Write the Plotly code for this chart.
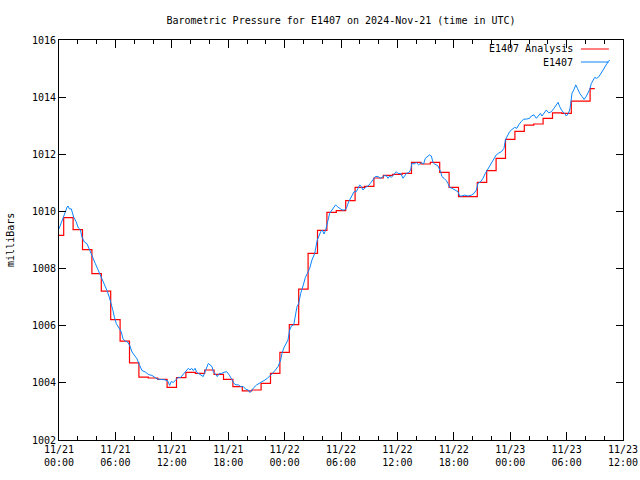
import pandas as pd
import plotly.graph_objects as go

start_time = "2024-11-21 00:00"
end_hours = 60

# Hourly analysis values (mb)
analysis_hours = list(range(58))
analysis_mb = [
    1009.16, 1009.78, 1009.36, 1008.66, 1007.82, 1007.21, 1006.21, 1005.46, 1004.70, 1004.20,
    1004.17, 1004.12, 1003.84, 1004.18, 1004.37, 1004.33, 1004.45, 1004.30, 1004.12, 1003.87,
    1003.72, 1003.75, 1003.98, 1004.33, 1005.07, 1006.04, 1007.28, 1008.53, 1009.34, 1009.97,
    1010.03, 1010.38, 1010.84, 1010.88, 1011.17, 1011.26, 1011.30, 1011.33, 1011.72, 1011.66,
    1011.72, 1011.37, 1010.84, 1010.52, 1010.52, 1011.02, 1011.43, 1011.86, 1012.52, 1012.80,
    1013.02, 1013.06, 1013.26, 1013.45, 1013.43, 1013.86, 1013.86, 1014.30,
]

# Station observations (hours after start, mb)
obs_hours = [
    0.00, 0.14, 0.39, 0.67, 0.85, 0.96, 1.10, 1.31, 1.56, 1.81, 2.06, 2.27, 2.45, 2.70, 2.98,
    3.19, 3.33, 3.62, 3.87, 4.11, 4.33, 4.61, 4.86, 5.11, 5.35, 5.57, 5.74, 5.89, 6.10, 6.38,
    6.63, 6.81, 7.06, 7.30, 7.52, 7.77, 8.01, 8.30, 8.58, 8.83, 9.18, 9.54, 9.89, 10.14, 10.43,
    10.78, 11.20, 11.56, 11.77, 11.95, 12.16, 12.45, 12.69, 12.94, 13.16, 13.40, 13.58, 13.76,
    13.94, 14.11, 14.29, 14.47, 14.65, 14.93, 15.18, 15.35, 15.46, 15.71, 15.89, 16.06, 16.28,
    16.42, 16.67, 16.84, 17.06, 17.30, 17.55, 17.84, 18.12, 18.37, 18.62, 18.83, 19.08, 19.33,
    19.61, 19.89, 20.14, 20.32, 20.50, 20.74, 21.03, 21.31, 21.67, 21.91, 22.16, 22.45, 22.70,
    22.98, 23.30, 23.58, 23.72, 23.94, 24.18, 24.36, 24.54, 24.72, 24.97, 25.14, 25.32, 25.50,
    25.71, 25.96, 26.21, 26.42, 26.67, 26.91, 27.20, 27.48, 27.66, 27.84, 28.01, 28.19, 28.37,
    28.55, 28.79, 29.04, 29.26, 29.43, 29.61, 29.86, 30.11, 30.39, 30.57, 30.82, 31.10, 31.39,
    31.63, 31.81, 31.99, 32.16, 32.34, 32.59, 32.87, 33.12, 33.40, 33.65, 33.94, 34.18, 34.36,
    34.57, 34.82, 35.00, 35.18, 35.35, 35.64, 35.89, 36.06, 36.35, 36.60, 36.77, 36.95, 37.20,
    37.41, 37.55, 37.77, 38.01, 38.26, 38.55, 38.79, 38.97, 39.18, 39.43, 39.61, 39.79, 39.96,
    40.14, 40.32, 40.60, 40.74, 40.96, 41.20, 41.38, 41.56, 41.81, 42.09, 42.45, 42.62, 42.87,
    43.16, 43.51, 43.87, 44.15, 44.40, 44.57, 44.86, 45.11, 45.35, 45.57, 45.82, 46.06, 46.28,
    46.52, 46.77, 47.06, 47.34, 47.49, 47.70, 47.94, 48.19, 48.48, 48.72, 48.90, 49.19, 49.43,
    49.72, 50.07, 50.25, 50.53, 50.78, 50.96, 51.21, 51.38, 51.60, 51.84, 52.09, 52.38, 52.66,
    52.91, 53.09, 53.26, 53.51, 53.79, 53.97, 54.15, 54.33, 54.44, 54.57, 54.79, 54.97, 55.15,
    55.40, 55.65, 55.86, 56.11, 56.28, 56.46, 56.63, 56.81, 56.99, 57.20, 57.41, 57.62, 57.87,
    58.12, 58.41, 58.59,
]
obs_mb = [
    1009.39, 1009.53, 1009.77, 1009.98, 1010.15, 1010.19, 1010.09, 1010.09, 1009.80, 1009.65,
    1009.42, 1009.36, 1009.10, 1008.93, 1008.87, 1008.69, 1008.60, 1008.34, 1008.17, 1007.99,
    1007.82, 1007.64, 1007.47, 1007.23, 1007.00, 1006.77, 1006.53, 1006.30, 1006.07, 1005.92,
    1005.78, 1005.54, 1005.46, 1005.43, 1005.31, 1005.08, 1004.98, 1004.84, 1004.61, 1004.43,
    1004.38, 1004.29, 1004.26, 1004.20, 1004.14, 1004.12, 1004.11, 1004.07, 1003.91, 1004.05,
    1004.01, 1004.12, 1004.19, 1004.19, 1004.27, 1004.36, 1004.45, 1004.51, 1004.45, 1004.51,
    1004.43, 1004.51, 1004.37, 1004.31, 1004.25, 1004.22, 1004.33, 1004.57, 1004.68, 1004.63,
    1004.57, 1004.39, 1004.27, 1004.22, 1004.33, 1004.33, 1004.37, 1004.39, 1004.27, 1004.12,
    1003.98, 1003.93, 1003.93, 1003.87, 1003.87, 1003.77, 1003.75, 1003.66, 1003.75, 1003.84,
    1003.93, 1003.98, 1004.04, 1004.10, 1004.16, 1004.24, 1004.33, 1004.43, 1004.57, 1004.80,
    1005.03, 1005.24, 1005.41, 1005.50, 1005.85, 1005.99, 1006.03, 1006.32, 1006.67, 1006.78,
    1007.13, 1007.39, 1007.69, 1007.83, 1008.01, 1008.30, 1008.53, 1009.00, 1009.14, 1009.29,
    1009.35, 1009.21, 1009.35, 1009.64, 1009.93, 1010.05, 1010.17, 1010.23, 1010.17, 1010.11,
    1010.05, 1010.05, 1010.11, 1010.34, 1010.54, 1010.69, 1010.69, 1010.81, 1010.93, 1010.87,
    1010.75, 1010.84, 1010.89, 1010.98, 1011.10, 1011.22, 1011.22, 1011.16, 1011.19, 1011.25,
    1011.25, 1011.16, 1011.24, 1011.19, 1011.30, 1011.39, 1011.33, 1011.33, 1011.16, 1011.24,
    1011.33, 1011.36, 1011.45, 1011.69, 1011.66, 1011.71, 1011.63, 1011.71, 1011.66, 1011.86,
    1011.92, 1011.98, 1011.94, 1011.71, 1011.66, 1011.63, 1011.59, 1011.39, 1011.22, 1011.16,
    1011.08, 1010.98, 1010.84, 1010.81, 1010.75, 1010.69, 1010.54, 1010.54, 1010.57, 1010.54,
    1010.57, 1010.63, 1010.75, 1010.98, 1011.04, 1011.16, 1011.33, 1011.45, 1011.59, 1011.69,
    1011.80, 1011.98, 1012.04, 1012.09, 1012.21, 1012.50, 1012.64, 1012.79, 1012.87, 1012.94,
    1012.91, 1013.03, 1013.15, 1013.23, 1013.23, 1013.26, 1013.34, 1013.38, 1013.26, 1013.34,
    1013.43, 1013.34, 1013.45, 1013.55, 1013.45, 1013.49, 1013.61, 1013.72, 1013.82, 1013.67,
    1013.52, 1013.43, 1013.34, 1013.41, 1013.55, 1013.78, 1014.13, 1014.27, 1014.43, 1014.31,
    1014.13, 1014.02, 1013.92, 1014.04, 1014.13, 1014.27, 1014.48, 1014.60, 1014.69, 1014.66,
    1014.71, 1014.81, 1014.95, 1015.09, 1015.24, 1015.30,
]

analysis_name = "E1407 Analysis"
obs_name = "E1407"
title_text = "Barometric Pressure for E1407 on 2024-Nov-21 (time in UTC)"
y_title = "milliBars"

base = pd.Timestamp(start_time)
analysis_t = base + pd.to_timedelta(analysis_hours, unit="h")
obs_t = base + pd.to_timedelta(obs_hours, unit="h")

RED = "#ff0000"
BLUE = "#0a84ff"
FONT = "DejaVu Sans Mono"

fig = go.Figure()
fig.add_trace(go.Scatter(x=analysis_t, y=analysis_mb, mode="lines", name=analysis_name,
                         line=dict(color=RED, width=1.2, shape="hvh")))
fig.add_trace(go.Scatter(x=obs_t, y=obs_mb, mode="lines", name=obs_name,
                         line=dict(color=BLUE, width=1)))

axis_common = dict(showline=True, linecolor="black", linewidth=1, mirror="ticks",
                   ticks="inside", tickcolor="black", showgrid=False, zeroline=False,
                   automargin=False,
                   tickfont=dict(family=FONT, size=10, color="black"))

fig.update_xaxes(**axis_common, type="date",
                 range=[base, base + pd.Timedelta(hours=end_hours)],
                 dtick=6 * 3600 * 1000, tick0=base, ticklen=8,
                 tickformat="%m/%d<br>%H:%M",
                 minor=dict(dtick=2 * 3600 * 1000, ticks="inside", ticklen=4, tickcolor="black"))
fig.update_yaxes(**axis_common, range=[1002, 1016], dtick=2, ticklen=7)

# y-axis title placed like gnuplot's ylabel
fig.add_annotation(x=-0.087, y=0.5, xref="paper", yref="paper", text=y_title, showarrow=False,
                   textangle=-90, xanchor="center", yanchor="middle",
                   font=dict(family=FONT, size=10, color="black"))

# gnuplot-style key: text followed by line sample
key_items = [(analysis_name, RED, 0.9775), (obs_name, BLUE, 0.945)]
for name, col, yy in key_items:
    fig.add_annotation(x=0.915, y=yy, xref="paper", yref="paper", text=name, showarrow=False,
                       xanchor="right", yanchor="middle",
                       font=dict(family=FONT, size=10, color="black"))
    fig.add_shape(type="line", xref="paper", yref="paper", x0=0.9255, x1=0.975, y0=yy, y1=yy,
                  line=dict(color=col, width=1))

fig.update_layout(
    width=640, height=480,
    margin=dict(l=59, r=17, t=40, b=40),
    paper_bgcolor="white", plot_bgcolor="white",
    showlegend=False,
    title=dict(text=title_text, x=0.5, xref="paper", y=1 - 20 / 480, yref="container",
               xanchor="center", yanchor="middle",
               font=dict(family=FONT, size=10, color="black")),
)

fig.write_html("out.html", config={"displayModeBar": False},
               post_script="document.body.style.margin='0';")
